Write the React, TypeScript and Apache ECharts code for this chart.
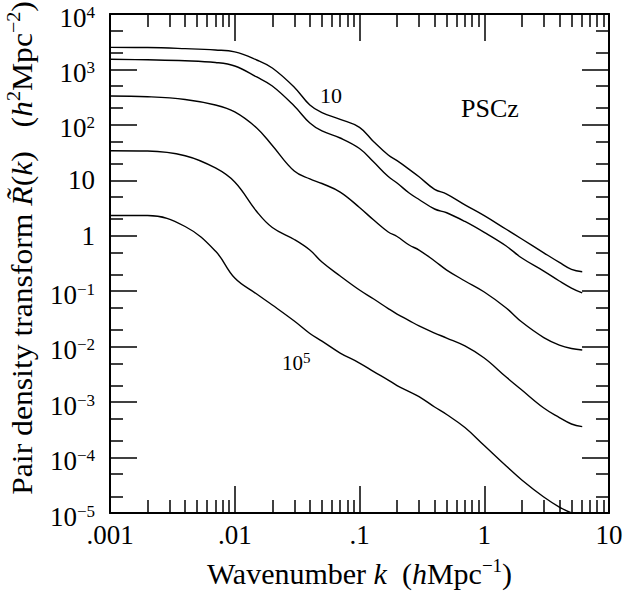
import React, { useEffect, useRef } from 'react';
import * as echarts from 'echarts';

// Wavenumber k (h Mpc^-1) sample points shared by the curves
const kValues = [0.001, 0.002, 0.004, 0.007, 0.01, 0.015, 0.02, 0.03, 0.04, 0.05, 0.07, 0.1, 0.13, 0.17, 0.2, 0.25, 0.3, 0.4, 0.5, 0.7, 1, 1.5, 2, 3, 4, 5, 6.1];

// Pair density transform R~(k) for each curve (top "10" to bottom "10^5")
const curve10 = [2500, 2480, 2370, 2240, 2070, 1480, 1060, 477, 228, 166, 126, 90.4, 49.7, 28.6, 22.6, 15.8, 11.6, 6.89, 5.66, 3.62, 2.31, 1.31, 0.875, 0.493, 0.33, 0.247, 0.225];
const curve100 = [1524, 1493, 1438, 1335, 1153, 731, 503, 219, 108, 77.6, 58.0, 37.5, 21.4, 11.7, 8.95, 5.91, 4.51, 3.04, 2.6, 1.81, 1.15, 0.653, 0.397, 0.231, 0.153, 0.114, 0.093];
const curve1000 = [332, 322, 287, 228, 171, 87.9, 42.5, 14.7, 10.6, 8.77, 6.15, 3.24, 1.92, 1.17, 0.97, 0.681, 0.553, 0.351, 0.241, 0.153, 0.0968, 0.0498, 0.0278, 0.0146, 0.0107, 0.00925, 0.00869];
const curve10000 = [34.2, 33.8, 27.8, 16.7, 9.32, 2.74, 1.41, 0.857, 0.553, 0.336, 0.188, 0.105, 0.0723, 0.0487, 0.0388, 0.0296, 0.0236, 0.0176, 0.0143, 0.0103, 0.00624, 0.00283, 0.00165, 0.000782, 0.000527, 0.000403, 0.000362];
const curve100000 = [2.32, 2.32, 1.47, 0.531, 0.173, 0.089, 0.0564, 0.029, 0.0173, 0.0126, 0.00768, 0.00507, 0.00356, 0.0025, 0.00199, 0.00155, 0.00126, 0.000815, 0.000597, 0.000348, 0.000165, 0.0000703, 0.0000394, 0.0000194, 0.0000128, 0.00001];

// Tick labels
const xTickLabels = ['.001', '.01', '.1', '1', '10'];
const yTickLabels = [
  '{m|10}{s|\u22125}', '{m|10}{s|\u22124}', '{m|10}{s|\u22123}', '{m|10}{s|\u22122}', '{m|10}{s|\u22121}',
  '{n|1}', '{n|10}', '{m|10}{s|2}', '{m|10}{s|3}', '{m|10}{s|4}',
];

// Minor tick positions
const xDecades = [0.001, 0.01, 0.1, 1];
const xMinorMultipliers = [2, 3, 4, 5, 6, 7, 8, 9];
const yDecades = [1e-5, 1e-4, 1e-3, 1e-2, 1e-1, 1, 10, 100, 1000];
const yMinorMultipliers = [2, 5];

const X_MIN = 0.001, X_MAX = 10, Y_MIN = 1e-5, Y_MAX = 1e4;

const SERIF = 'Liberation Serif, Times New Roman, serif';

export default function App() {
  const ref = useRef<HTMLDivElement>(null);

  useEffect(() => {
    if (!ref.current) return;
    const chart = echarts.init(ref.current, undefined, { renderer: 'svg' });
    const black = '#000';

    const xMinor: number[] = [];
    xDecades.forEach((d) => xMinorMultipliers.forEach((m) => xMinor.push(+(d * m).toPrecision(6))));
    const yMinor: number[] = [];
    yDecades.forEach((d) => yMinorMultipliers.forEach((m) => yMinor.push(+(d * m).toPrecision(6))));

    const majorX = (position: 'bottom' | 'top', labels: boolean) => ({
      type: 'log', logBase: 10, min: X_MIN, max: X_MAX, position, gridIndex: 0,
      axisLine: { show: true, onZero: false, lineStyle: { color: black, width: 2 } },
      axisTick: { show: true, inside: true, length: 27, lineStyle: { color: black, width: 1.5 } },
      axisLabel: {
        show: labels, margin: 8, color: black, fontFamily: SERIF, fontSize: 27,
        showMinLabel: true, showMaxLabel: true,
        formatter: (v: number) => xTickLabels[Math.round(Math.log10(v)) + 3] ?? '',
      },
      splitLine: { show: false }, minorTick: { show: false }, minorSplitLine: { show: false },
    });
    const minorX = (position: 'bottom' | 'top') => ({
      type: 'log', logBase: 10, min: X_MIN, max: X_MAX, position, gridIndex: 0,
      axisLine: { show: false, onZero: false },
      axisTick: { show: true, inside: true, length: 13, customValues: xMinor, lineStyle: { color: black, width: 1.5 } },
      axisLabel: { show: false },
      splitLine: { show: false },
    });
    const majorY = (position: 'left' | 'right', labels: boolean) => ({
      type: 'log', logBase: 10, min: Y_MIN, max: Y_MAX, position, gridIndex: 0,
      axisLine: { show: true, onZero: false, lineStyle: { color: black, width: 2 } },
      axisTick: { show: true, inside: true, length: 27, lineStyle: { color: black, width: 1.5 } },
      axisLabel: {
        show: labels, margin: 15, color: black, fontFamily: SERIF, fontSize: 27,
        showMinLabel: true, showMaxLabel: true,
        formatter: (v: number) => yTickLabels[Math.round(Math.log10(v)) + 5] ?? '',
        rich: {
          n: { fontFamily: SERIF, fontSize: 27, color: black },
          m: { fontFamily: SERIF, fontSize: 27, color: black, padding: [7, 0, 0, 0] },
          s: { fontFamily: SERIF, fontSize: 17, color: black, padding: [0, 0, 4, 0] },
        },
      },
      splitLine: { show: false }, minorTick: { show: false }, minorSplitLine: { show: false },
    });
    const minorY = (position: 'left' | 'right') => ({
      type: 'log', logBase: 10, min: Y_MIN, max: Y_MAX, position, gridIndex: 0,
      axisLine: { show: false, onZero: false },
      axisTick: { show: true, inside: true, length: 13, customValues: yMinor, lineStyle: { color: black, width: 1.5 } },
      axisLabel: { show: false },
      splitLine: { show: false },
    });

    const curves = [curve10, curve100, curve1000, curve10000, curve100000];

    const textGraphics: any[] = [
      {
        type: 'text', x: 22, y: 248, rotation: Math.PI / 2, scaleX: 1.055,
        style: {
          text: 'Pair density transform {i|R\u0303}({i|k})   ({i|h}{s|2}Mpc{s|\u22122})',
          font: '30px ' + SERIF, fontSize: 30, fontFamily: SERIF, fill: black,
          align: 'center', verticalAlign: 'middle', textAlign: 'center', textVerticalAlign: 'middle',
          rich: {
            i: { fontFamily: SERIF, fontSize: 30, fontStyle: 'italic', color: black },
            s: { fontFamily: SERIF, fontSize: 19, color: black, padding: [0, 0, 16, 0] },
          },
        },
      },
      {
        type: 'text', x: 359.5, y: 573,
        style: {
          text: 'Wavenumber {i|k}  ({i|h}Mpc{s|\u22121})',
          font: '30px ' + SERIF, fontSize: 30, fontFamily: SERIF, fill: black,
          align: 'center', verticalAlign: 'middle', textAlign: 'center', textVerticalAlign: 'middle',
          rich: {
            i: { fontFamily: SERIF, fontSize: 30, fontStyle: 'italic', color: black },
            s: { fontFamily: SERIF, fontSize: 19, color: black, padding: [0, 0, 16, 0] },
          },
        },
      },
      {
        type: 'text', x: 331, y: 95,
        style: {
          text: '10', font: '22px ' + SERIF, fontSize: 22, fontFamily: SERIF, fill: black,
          align: 'center', verticalAlign: 'middle', textAlign: 'center', textVerticalAlign: 'middle',
        },
      },
      {
        type: 'text', x: 282, y: 363,
        style: {
          text: '{m|10}{s|5}', font: '21px ' + SERIF, fontSize: 21, fontFamily: SERIF, fill: black,
          align: 'left', verticalAlign: 'middle', textAlign: 'left', textVerticalAlign: 'middle',
          rich: {
            m: { fontFamily: SERIF, fontSize: 21, color: black },
            s: { fontFamily: SERIF, fontSize: 15, color: black, padding: [0, 0, 10, 0] },
          },
        },
      },
      {
        type: 'text', x: 490, y: 108,
        style: {
          text: 'PSCz', font: '26px ' + SERIF, fontSize: 26, fontFamily: SERIF, fill: black,
          align: 'center', verticalAlign: 'middle', textAlign: 'center', textVerticalAlign: 'middle',
        },
      },
    ];

    const option: any = {
      animation: false,
      backgroundColor: '#fff',
      grid: { left: 110, top: 14, width: 499, height: 499, containLabel: false, outerBoundsMode: 'none' },
      xAxis: [majorX('bottom', true), majorX('top', false), minorX('bottom'), minorX('top')],
      yAxis: [majorY('left', true), majorY('right', false), minorY('left'), minorY('right')],
      series: curves.map((vals, i) => ({
        type: 'line',
        name: 'c' + i,
        xAxisIndex: 0,
        yAxisIndex: 0,
        data: kValues
          .map((k, j) => (vals[j] == null ? null : [k, vals[j]]))
          .filter((p) => p != null),
        showSymbol: false,
        symbol: 'none',
        smooth: 0.4,
        silent: true,
        lineStyle: { color: black, width: 1.4 },
      })),
      graphic: textGraphics,
    };

    chart.setOption(option);
    return () => chart.dispose();
  }, []);

  return (
    <div
      ref={ref}
      style={{ position: 'fixed', left: 0, top: 0, width: '626px', height: '593px', background: '#fff' }}
    />
  );
}
